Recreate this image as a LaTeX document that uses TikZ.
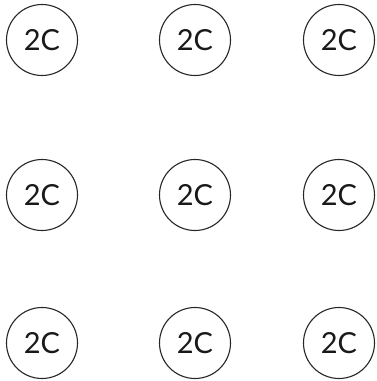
\documentclass[tikz,border=0pt]{standalone}
\usepackage{fontspec}
\setmainfont{Lato}
\begin{document}
\begin{tikzpicture}[x=1pt,y=-1pt,
  cell/.style={circle,draw=black!85,line width=1.1pt,minimum size=71pt,inner sep=0pt,font=\fontsize{29}{29}\selectfont,text=black!90}]
\useasboundingbox (0,0) rectangle (377,381);
\foreach \r/\yy in {1/40,2/195,3/343}{
  \foreach \c/\xx in {1/42,2/195,3/339}{
    \node[cell] (n\r\c) at (\xx,\yy) {2C};
  }
}
\end{tikzpicture}
\end{document}
